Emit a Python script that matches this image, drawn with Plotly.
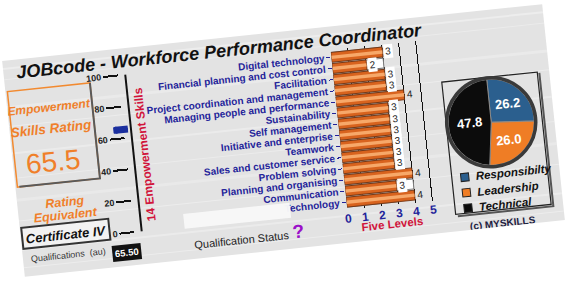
import plotly.graph_objects as go

# ---------------- data ----------------
skills = ["Digital technology", "Financial planning and cost control", "Facilitation",
          "Project coordination and management", "Managing people and performance",
          "Sustainability", "Self management", "Initiative and enterprise", "Teamwork",
          "Sales and customer service", "Problem solving", "Planning and organising",
          "Communication", "Technology"]
levels = [3, 2, 3, 3, 4, 3, 3, 3, 3, 3, 3, 4, 3, 4]
required = [3, 3, 3, 3, 3, 3, 3, 3, 3, 3, 3, 3, 4, 3]
level_ticks = [0, 1, 2, 3, 4, 5]
gauge_ticks = [0, 20, 40, 60, 80, 100]
rating = 65.5
pie_labels = ["Responsibilty", "Leadership", "Technical"]
pie_values = [26.2, 26.0, 47.8]
pie_colors = ["#2b5f8e", "#ef7d25", "#0c0c0c"]

# ---------------- geometry helpers (panel pixels -> paper) ----------------
W, H = 543, 217
def px(x): return x / W
def py(y): return 1 - y / H

FONT = "Liberation Sans, Arial, sans-serif"
ORANGE = "#f07f2a"
NAVY = "#23239a"
CRIMSON = "#d1143b"

fig = go.Figure()

# target (white) bars
fig.add_trace(go.Bar(x=required, y=skills, orientation="h", width=0.88,
                     marker=dict(color="white", line=dict(color="#7a7a7a", width=1)),
                     hoverinfo="skip", showlegend=False))
# actual bars
fig.add_trace(go.Bar(x=levels, y=skills, orientation="h", width=0.88,
                     marker=dict(color="#d8631e", line=dict(color="#6b3010", width=0.8)),
                     showlegend=False))
# highlight stripe
fig.add_trace(go.Bar(x=levels, y=skills, orientation="h", width=0.3,
                     marker=dict(color="#f7a869", line=dict(width=0)),
                     hoverinfo="skip", showlegend=False))

# gauge pointer
fig.add_trace(go.Scatter(x=[0.15, 1], y=[rating, rating], mode="lines",
                         line=dict(color="#1b2f9e", width=7), xaxis="x2", yaxis="y2",
                         hoverinfo="skip", showlegend=False))
fig.add_trace(go.Scatter(x=[0.15], y=[rating], mode="markers",
                         marker=dict(color="#1b2f9e", size=7), xaxis="x2", yaxis="y2",
                         hoverinfo="skip", showlegend=False))

# pie
cx, cy, r = 480, 112, 43
fig.add_trace(go.Pie(labels=pie_labels, values=pie_values, sort=False, direction="clockwise",
                     rotation=0, marker=dict(colors=pie_colors, line=dict(color="#8a8a8a", width=1)),
                     textinfo="value", texttemplate="%{value:.1f}", textposition="inside",
                     insidetextorientation="horizontal",
                     textfont=dict(color="white", size=13, family=FONT, weight="bold"),
                     domain=dict(x=[px(cx - r), px(cx + r)], y=[py(cy + r), py(cy - r)]),
                     showlegend=False))

shapes = []
# brushed metal streaks
for yy, wd, op in [(8, 2, 0.35), (19, 1, 0.3), (47, 3, 0.25), (66, 1, 0.35), (93, 2, 0.3),
                   (118, 1, 0.3), (140, 3, 0.22), (161, 1, 0.35), (190, 2, 0.3), (208, 1, 0.35)]:
    shapes.append(dict(type="line", xref="paper", yref="paper", x0=0, x1=1, y0=py(yy), y1=py(yy),
                       line=dict(color=f"rgba(255,255,255,{op})", width=wd), layer="below"))
# left rating box
shapes.append(dict(type="rect", xref="paper", yref="paper", x0=px(2), x1=px(85), y0=py(127), y1=py(31),
                   line=dict(color="#f28a30", width=1.5)))
shapes.append(dict(type="path", xref="paper", yref="paper",
                   path=f"M {px(85)} {py(31)} L {px(85)} {py(127)} L {px(4)} {py(127)}",
                   line=dict(color="#5a5a5a", width=2)))
# gauge vertical line
shapes.append(dict(type="line", xref="paper", yref="y2", x0=px(121), x1=px(121), y0=-1, y1=103,
                   line=dict(color="#111", width=2)))
# certificate box
shapes.append(dict(type="rect", xref="paper", yref="paper", x0=px(1.5), x1=px(89), y0=py(189), y1=py(168),
                   fillcolor="#f2f2f2", line=dict(color="#333", width=2)))
# cover rect over label start
shapes.append(dict(type="rect", xref="paper", yref="paper", x0=px(164), x1=px(271), y0=py(186), y1=py(171),
                   fillcolor="rgba(248,248,248,0.97)", line=dict(width=0)))
# pie box
shapes.append(dict(type="rect", xref="paper", yref="paper", x0=px(435), x1=px(531), y0=py(200), y1=py(67),
                   line=dict(color="#222", width=1.2)))
shapes.append(dict(type="path", xref="paper", yref="paper",
                   path=f"M {px(533)} {py(68)} L {px(533)} {py(202)} L {px(437)} {py(202)}",
                   line=dict(color="#555", width=2)))
# pie outer ring
shapes.append(dict(type="circle", xref="paper", yref="paper", x0=px(cx - r - 1.5), x1=px(cx + r + 1.5),
                   y0=py(cy + r + 1.5), y1=py(cy - r - 1.5), line=dict(color="#3a3a3a", width=3.5)))

annotations = []
def ann(text, x, y, size, color="#111", weight="normal", style="normal", xanchor="center",
        yanchor="middle", angle=0, **kw):
    annotations.append(dict(text=text, x=px(x), y=py(y), xref="paper", yref="paper",
                            showarrow=False, xanchor=xanchor, yanchor=yanchor, textangle=angle,
                            font=dict(family=FONT, size=size, color=color, weight=weight, style=style),
                            **kw))

ann("JOBcode - Workforce Performance Coordinator", 11, 13, 18, "#111", "bold", "italic", xanchor="left")
ann("Empowerment", 42, 51, 12, ORANGE, "bold", "italic")
ann("Skills Rating", 42, 72, 13.5, ORANGE, "bold", "italic")
ann(f"{rating}", 40, 105, 28, ORANGE)
ann("Rating", 47, 147, 12.5, ORANGE, "bold", "italic")
ann("Equivalent", 47, 160, 12.5, ORANGE, "bold", "italic")
ann("Certificate IV", 45, 179, 13, "#111", "bold", "italic")
ann("Qualifications  (au)", 45, 200, 9, "#333")
ann(f"{rating:.2f}", 104, 203, 9.5, "white", "bold", bgcolor="#111", borderpad=2)
ann("14 Empowerment Skills", 132, 108, 12, CRIMSON, "bold", angle=-90)
ann("Five Levels", 371, 203, 11.5, CRIMSON, "bold")
ann("Qualification Status", 219, 203, 11, "#222")
ann("?", 277, 200, 19, "#9b10c9", "bold")
ann("(c) MYSKILLS", 481, 213, 10, "#1c2040", "bold")

# legend for pie
for i, (lab, col) in enumerate(zip(pie_labels, pie_colors)):
    yy = 164 + i * 15.5
    shapes.append(dict(type="rect", xref="paper", yref="paper", x0=px(444), x1=px(452),
                       y0=py(yy + 4), y1=py(yy - 4), fillcolor=col, line=dict(color="#222", width=1)))
    ann(lab, 456.5, yy, 11.5, "#111", "bold", "italic", xanchor="left")

# bar value labels
for s, v in zip(skills, levels):
    annotations.append(dict(text=str(v), x=v, y=s, xref="x", yref="y", showarrow=False,
                            xanchor="left", yanchor="middle", xshift=1,
                            bgcolor="white" if v < 4 else "rgba(0,0,0,0)", borderpad=1,
                            font=dict(family=FONT, size=10, color="#222")))

x0_bar, unit = 327.8, 17.1
fig.update_layout(
    width=W, height=H, margin=dict(l=0, r=0, t=0, b=0),
    paper_bgcolor="#e3e3e3", plot_bgcolor="rgba(0,0,0,0)",
    barmode="overlay", bargap=0.1,
    font=dict(family=FONT),
    xaxis=dict(domain=[px(x0_bar), px(x0_bar + 5.25 * unit)], range=[0, 5.25], tickvals=level_ticks,
               showgrid=True, gridcolor="#111", gridwidth=1.3, zeroline=False, showline=False,
               ticks="", tickfont=dict(size=12, color=NAVY, weight="bold"), automargin=False,
               anchor="y", fixedrange=True),
    yaxis=dict(domain=[py(184), py(23.3)], autorange="reversed", showgrid=False, zeroline=False,
               tickmode="array", tickvals=skills, ticktext=skills,
               ticks="outside", ticklen=4, tickcolor=NAVY, tickwidth=1,
               tickfont=dict(size=10, color=NAVY, weight="bold"), automargin=False, anchor="x",
               fixedrange=True),
    xaxis2=dict(domain=[px(103.3), px(118.1)], range=[0, 1], visible=False, anchor="y2",
                fixedrange=True),
    yaxis2=dict(domain=[py(184), py(26.5)], range=[0, 100], tickvals=gauge_ticks, anchor="free",
                position=px(113.6), side="left", showgrid=False, zeroline=False, showline=False,
                ticks="outside", ticklen=15, tickwidth=2, tickcolor="#111",
                tickfont=dict(size=9, color="#222", weight="bold"), automargin=False, fixedrange=True),
    shapes=shapes, annotations=annotations,
)

post = """
var gd = document.getElementById('{plot_id}');
document.body.style.margin = '0';
document.body.style.overflow = 'hidden';
gd.style.position = 'absolute';
gd.style.left = '12px';
gd.style.top = '32px';
gd.style.transformOrigin = '50% 50%';
gd.style.transform = 'rotate(-6deg)';
"""
fig.write_html("out.html", config={"displayModeBar": False}, post_script=post)
